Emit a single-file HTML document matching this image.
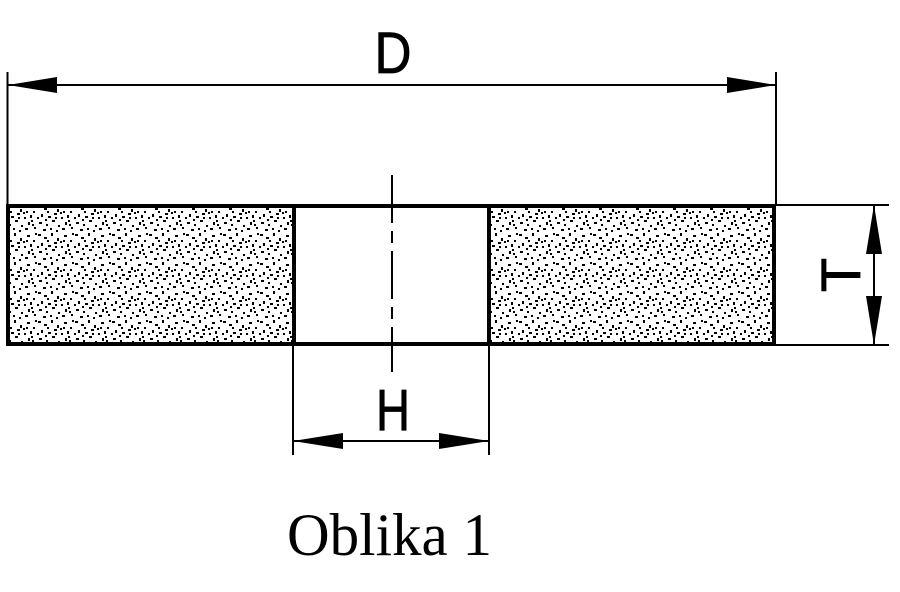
<!DOCTYPE html>
<html><head><meta charset="utf-8"><style>
html,body{margin:0;padding:0;background:#fff;width:900px;height:592px;overflow:hidden}
</style></head><body>
<svg width="900" height="592" viewBox="0 0 900 592" xmlns="http://www.w3.org/2000/svg">
<defs>
<pattern id="dots" width="37" height="29" patternUnits="userSpaceOnUse">
<g fill="#000">
<rect x="1" y="2" width="3" height="2"/><rect x="7" y="5" width="3" height="2"/><rect x="14" y="1" width="2" height="3"/>
<rect x="20" y="6" width="2" height="3"/><rect x="27" y="3" width="3" height="2"/><rect x="33" y="8" width="2" height="2"/>
<rect x="4" y="11" width="2" height="3"/><rect x="11" y="13" width="3" height="2"/><rect x="17" y="10" width="3" height="2"/>
<rect x="24" y="14" width="2" height="2"/><rect x="30" y="12" width="2" height="3"/><rect x="2" y="19" width="3" height="2"/>
<rect x="9" y="21" width="2" height="2"/><rect x="15" y="17" width="3" height="2"/><rect x="21" y="22" width="2" height="2"/>
<rect x="28" y="19" width="2" height="3"/><rect x="34" y="24" width="2" height="2"/><rect x="6" y="26" width="3" height="2"/>
<rect x="13" y="25" width="2" height="2"/><rect x="19" y="27" width="2" height="2"/><rect x="25" y="25" width="3" height="2"/>
<rect x="31" y="17" width="2" height="2"/><rect x="35" y="1" width="2" height="2"/><rect x="23" y="9" width="2" height="2"/>
<rect x="10" y="8" width="2" height="2"/><rect x="0" y="14" width="2" height="2"/><rect x="18" y="14" width="2" height="2"/>
<rect x="26" y="8" width="2" height="2"/><rect x="8" y="16" width="2" height="2"/><rect x="32" y="21" width="2" height="2"/>
</g></pattern>
</defs>
<g stroke="#000" fill="none">
<line x1="7.5" y1="72" x2="7.5" y2="205" stroke-width="2"/>
<line x1="776" y1="72" x2="776" y2="205" stroke-width="2"/>
<line x1="8" y1="85" x2="776" y2="85" stroke-width="2"/>
<rect x="10" y="206" width="283" height="138" fill="url(#dots)" stroke="none"/>
<rect x="490" y="206" width="284" height="138" fill="url(#dots)" stroke="none"/>
<rect x="8" y="206" width="766" height="138" stroke-width="4"/>
<line x1="294" y1="206" x2="294" y2="344" stroke-width="4"/>
<line x1="489" y1="206" x2="489" y2="344" stroke-width="4"/>
<line x1="392" y1="175" x2="392" y2="372" stroke-width="2" stroke-dasharray="48,8,12,8"/>
<line x1="293" y1="344" x2="293" y2="455" stroke-width="2"/>
<line x1="489" y1="344" x2="489" y2="455" stroke-width="2"/>
<line x1="293" y1="441" x2="489" y2="441" stroke-width="2"/>
<line x1="776" y1="205" x2="889" y2="205" stroke-width="2"/>
<line x1="776" y1="345" x2="889" y2="345" stroke-width="2"/>
<line x1="874" y1="205" x2="874" y2="345" stroke-width="2"/>
</g>
<g fill="#000">
<polygon points="8,85 57,77 57,93"/>
<polygon points="776,85 727,77 727,93"/>
<polygon points="293,441 343,433 343,449"/>
<polygon points="489,441 439,433 439,449"/>
<polygon points="874,205 866,254 882,254"/>
<polygon points="874,345 866,296 882,296"/>
</g>
<g font-family="Liberation Sans, sans-serif" font-size="58" text-anchor="middle" stroke="#000" stroke-width="0.8">
<text x="393" y="73" textLength="37" lengthAdjust="spacingAndGlyphs">D</text>
<text x="393" y="430" textLength="34" lengthAdjust="spacingAndGlyphs">H</text>
<text transform="translate(860,275) rotate(-90)" x="0" y="0" font-size="56">T</text>
</g>
<text x="287" y="555" font-family="Liberation Serif, serif" font-size="60" textLength="205" lengthAdjust="spacingAndGlyphs">Oblika 1</text>
</svg>
</body></html>
